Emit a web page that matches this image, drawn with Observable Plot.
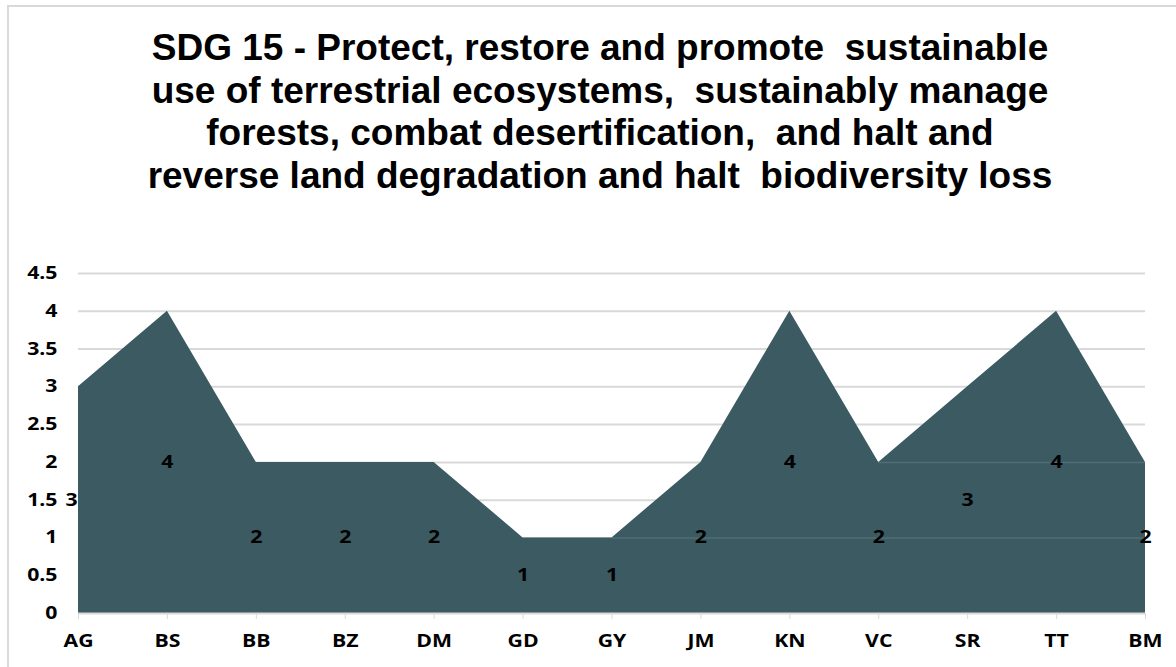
<!DOCTYPE html>
<html>
<head>
<meta charset="utf-8">
<script src="https://cdn.jsdelivr.net/npm/d3@7"></script>
<script src="https://cdn.jsdelivr.net/npm/@observablehq/plot@0.6"></script>
<style>
  html, body { margin: 0; padding: 0; background: #fff; overflow: hidden; }
  #frame { position: absolute; left: 7px; top: 5px; width: 1200px; height: 700px; border: 2px solid #d9d9d9; box-sizing: border-box; }
  #title { position: absolute; left: 0; top: 27px; width: 1200px; text-align: center; font-family: "Liberation Sans", Arial, sans-serif; font-weight: bold; font-size: 37px; line-height: 42.5px; color: #000; white-space: pre; }
  #chart { position: absolute; left: 0; top: 250px; width: 1176px; height: 417px; }
</style>
</head>
<body>
<div id="frame"></div>
<div id="title"></div>
<div id="chart"></div>
<script>
const titleLines = [
  "SDG 15 - Protect, restore and promote  sustainable",
  "use of terrestrial ecosystems,  sustainably manage",
  "forests, combat desertification,  and halt and",
  "reverse land degradation and halt  biodiversity loss"
];
const categories = ["AG","BS","BB","BZ","DM","GD","GY","JM","KN","VC","SR","TT","BM"];
const values = [3,4,2,2,2,1,1,2,4,2,3,4,2];
const yTicks = [0,0.5,1,1.5,2,2.5,3,3.5,4,4.5];
// faint seams visible inside the filled area in the original rendering
const seamLevels = [1, 2];
const seamFrom = ["GY", "VC"];
const seamTo = ["BM", "BM"];

document.getElementById("title").textContent = titleLines.join("\n");

const data = categories.map((c, i) => ({cat: c, value: values[i]}));
const seams = seamLevels.map((v, i) => ({y: v, x1: seamFrom[i], x2: seamTo[i]}));
const fill = "#3b5a61";
const font = "'Open Sans', Lato, sans-serif";
const stretch = 1.25;

const chart = Plot.plot({
  width: 1176,
  height: 417,
  marginLeft: 78,
  marginRight: 31,
  marginTop: 23,
  marginBottom: 54,
  style: { fontFamily: font, fontSize: "17px", fontWeight: "bold", color: "#000", background: "transparent" },
  x: { type: "point", domain: categories, padding: 0, round: false, label: null },
  y: { domain: [0, 4.5], ticks: yTicks, label: null },
  marks: [
    Plot.gridY(yTicks.filter(d => d > 0), { stroke: "#d9d9d9", strokeOpacity: 1, strokeWidth: 2 }),
    Plot.areaY(data, { x: "cat", y: "value", fill: fill, curve: "linear" }),
    Plot.ruleY(seams, { y: "y", x1: "x1", x2: "x2", stroke: "#ffffff", strokeOpacity: 0.12, strokeWidth: 1.5 }),
    Plot.ruleY([0], { stroke: "#d9d9d9", strokeWidth: 2 }),
    Plot.axisY({ ticks: yTicks, tickSize: 0, tickPadding: 21, tickFormat: d => String(d), fontSize: 17, fontWeight: "bold" }),
    Plot.axisX({ tickSize: 6, tickPadding: 15, stroke: "#d9d9d9", fontSize: 17, fontWeight: "bold" }),
    Plot.text(data.slice(0, 1), { x: "cat", y: d => d.value / 2, text: d => String(d.value), dx: -7, fontSize: 17, fontWeight: "bold", fill: "#000" }),
    Plot.text(data.slice(1), { x: "cat", y: d => d.value / 2, text: d => String(d.value), fontSize: 17, fontWeight: "bold", fill: "#000" })
  ]
});
// widen the chart's glyphs horizontally, around each text's own anchor
chart.querySelectorAll("text").forEach(t => {
  const tr = t.getAttribute("transform");
  if (tr) t.setAttribute("transform", `${tr} scale(${stretch},1)`);
});
document.getElementById("chart").appendChild(chart);
</script>
</body>
</html>
